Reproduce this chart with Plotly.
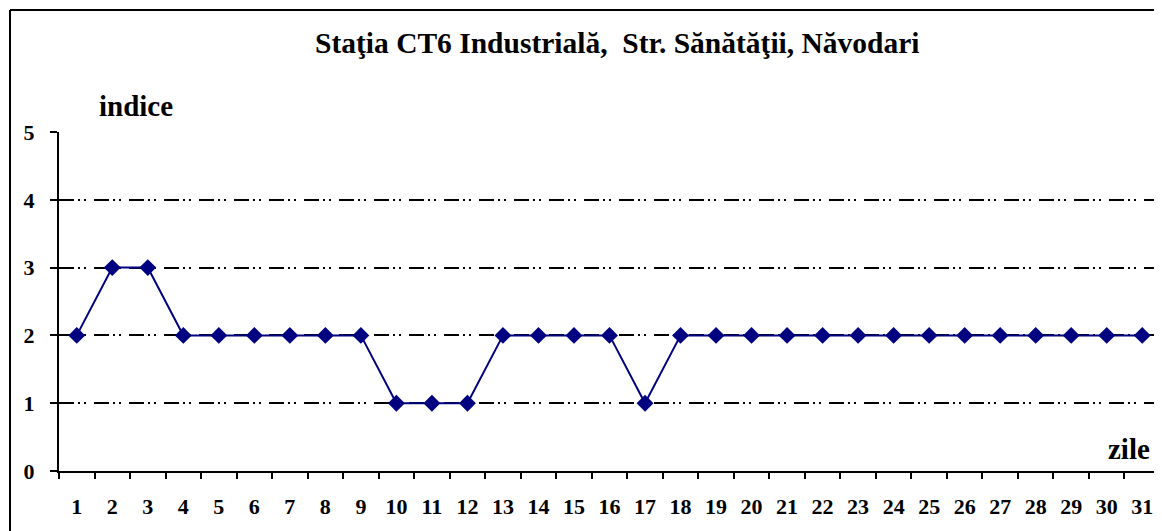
import plotly.graph_objects as go

days = [str(i) for i in range(1, 32)]
indice = [2, 3, 3, 2, 2, 2, 2, 2, 2, 1, 1, 1, 2, 2, 2, 2, 1, 2, 2, 2, 2, 2, 2, 2, 2, 2, 2, 2, 2, 2, 2]
y_ticks = [0, 1, 2, 3, 4, 5]
title_text = "Staţia CT6 Industrială,  Str. Sănătăţii, Năvodari"

# page body has an 8px margin; work in figure coordinates = reference - 8
OFF = 8
W, H = 1162 - OFF, 531 - OFF
L, R, T, B = 59 - OFF, 2, 132 - OFF, 60
font_family = "Liberation Serif, Times New Roman, serif"

fig = go.Figure()
fig.add_trace(go.Scatter(
    x=days, y=indice, mode="lines+markers",
    line=dict(color="#000080", width=2),
    marker=dict(symbol="diamond", size=13, color="#000080"),
    showlegend=False, cliponaxis=False,
))

pw = W - L - R
ph = H - T - B

def px_x(p):
    return (p - OFF - L) / pw

def px_y(p):
    return (H - B - (p - OFF)) / ph

fig.update_layout(
    width=W, height=H,
    margin=dict(l=L, r=R, t=T, b=B),
    paper_bgcolor="white", plot_bgcolor="white",
    font=dict(family=font_family, color="black"),
    xaxis=dict(
        type="category", tickson="boundaries", ticks="outside", ticklen=6,
        range=[-0.5, len(days) - 0.5],
        tickcolor="black", tickwidth=2, showgrid=False, showline=True,
        linecolor="black", linewidth=2,
        tickfont=dict(size=22, family=font_family, color="black", weight="bold"),
        ticklabelstandoff=15, fixedrange=True,
    ),
    yaxis=dict(
        range=[0, 5], tickvals=y_ticks, ticks="outside", ticklen=7,
        tickcolor="black", tickwidth=2, showline=True, linecolor="black", linewidth=2,
        showgrid=True, gridcolor="black", gridwidth=1.5,
        griddash="15px,4px,2px,4px,2px,8px",
        zeroline=False,
        tickfont=dict(size=22, family=font_family, color="black", weight="bold"),
        ticklabelstandoff=11, fixedrange=True,
    ),
    shapes=[
        dict(type="line", xref="paper", yref="paper",
             x0=px_x(10), x1=px_x(1175), y0=px_y(10), y1=px_y(10),
             line=dict(color="black", width=2)),
        dict(type="line", xref="paper", yref="paper",
             x0=px_x(10), x1=px_x(10), y0=px_y(10), y1=px_y(545),
             line=dict(color="black", width=2)),
    ],
    annotations=[
        dict(text="<b>" + title_text + "</b>", xref="paper", yref="paper",
             x=px_x(618), y=px_y(43), xanchor="center", yanchor="middle",
             showarrow=False, font=dict(size=29.5, family=font_family, color="black")),
        dict(text="<b>indice</b>", xref="paper", yref="paper",
             x=px_x(136), y=px_y(106), xanchor="center", yanchor="middle",
             showarrow=False, font=dict(size=29, family=font_family, color="black")),
        dict(text="<b>zile</b>", xref="paper", yref="paper",
             x=px_x(1129), y=px_y(449), xanchor="center", yanchor="middle",
             showarrow=False, font=dict(size=29, family=font_family, color="black")),
    ],
)

fig.write_html("out.html")
